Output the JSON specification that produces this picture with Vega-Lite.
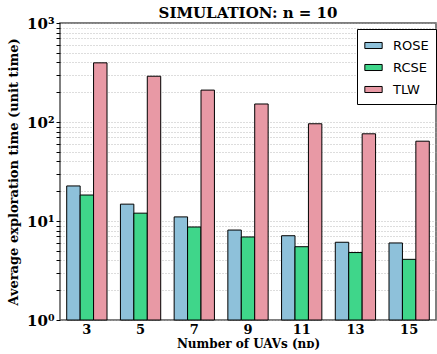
{
  "$schema": "https://vega.github.io/schema/vega-lite/v6.json",
  "width": 376,
  "height": 297,
  "autosize": {"type": "none"},
  "padding": {"left": 60, "top": 23, "right": 1, "bottom": 34},
  "background": "white",
  "title": {"text": "SIMULATION: n = 10", "font": "DejaVu Serif", "fontSize": 15, "fontWeight": "bold", "color": "black", "offset": -5},
  "config": {
    "view": {"stroke": "#555", "strokeWidth": 1.5},
    "axis": {"labelFont": "DejaVu Serif", "titleFont": "DejaVu Serif", "labelFontWeight": "bold", "titleFontWeight": "bold", "labelColor": "black", "titleColor": "black", "domain": false}
  },
  "data": {"values": [
    {"n": 3, "method": "ROSE", "t": 22.6}, {"n": 3, "method": "RCSE", "t": 18.3}, {"n": 3, "method": "TLW", "t": 396},
    {"n": 5, "method": "ROSE", "t": 14.8}, {"n": 5, "method": "RCSE", "t": 12.0}, {"n": 5, "method": "TLW", "t": 290},
    {"n": 7, "method": "ROSE", "t": 11.0}, {"n": 7, "method": "RCSE", "t": 8.7}, {"n": 7, "method": "TLW", "t": 210},
    {"n": 9, "method": "ROSE", "t": 8.1}, {"n": 9, "method": "RCSE", "t": 6.9}, {"n": 9, "method": "TLW", "t": 152},
    {"n": 11, "method": "ROSE", "t": 7.1}, {"n": 11, "method": "RCSE", "t": 5.5}, {"n": 11, "method": "TLW", "t": 96},
    {"n": 13, "method": "ROSE", "t": 6.1}, {"n": 13, "method": "RCSE", "t": 4.8}, {"n": 13, "method": "TLW", "t": 76},
    {"n": 15, "method": "ROSE", "t": 6.0}, {"n": 15, "method": "RCSE", "t": 4.1}, {"n": 15, "method": "TLW", "t": 64}
  ]},
  "mark": {"type": "bar", "stroke": "black", "strokeWidth": 1},
  "encoding": {
    "x": {"field": "n", "type": "ordinal", "sort": "ascending",
      "scale": {"paddingInner": 0.25, "paddingOuter": 0.125},
      "axis": {"labelAngle": 0, "labelFontSize": 13, "ticks": false, "labelPadding": 3,
        "title": "Number of UAVs  (nᴅ)", "titleFontSize": 12, "titlePadding": 2}},
    "xOffset": {"field": "method", "type": "nominal", "sort": ["ROSE", "RCSE", "TLW"], "scale": {"paddingInner": 0, "paddingOuter": 0}},
    "y": {"field": "t", "type": "quantitative",
      "scale": {"type": "log", "domain": [1, 1000], "nice": false},
      "axis": {
        "values": [1,2,3,4,5,6,7,8,9,10,20,30,40,50,60,70,80,90,100,200,300,400,500,600,700,800,900,1000],
        "labelExpr": "datum.value == 1 ? '10⁰' : datum.value == 10 ? '10¹' : datum.value == 100 ? '10²' : datum.value == 1000 ? '10³' : ''",
        "labelFontSize": 15, "tickSize": 4, "tickColor": "black",
        "grid": true, "gridDash": [1, 2], "gridColor": "#aaa", "gridWidth": 0.8,
        "title": "Average exploration time (unit time)", "titleFontSize": 13, "titlePadding": 6}},
    "y2": {"datum": 1},
    "color": {"field": "method", "type": "nominal", "sort": ["ROSE", "RCSE", "TLW"],
      "scale": {"domain": ["ROSE", "RCSE", "TLW"], "range": ["#8ec1da", "#3fd68a", "#e899a5"]},
      "legend": {"title": null, "orient": "none", "legendX": 297, "legendY": 6,
        "labelFont": "DejaVu Sans", "labelFontSize": 13, "labelColor": "black",
        "symbolType": "M-1,-0.35H1V0.35H-1Z", "symbolSize": 300, "symbolStrokeColor": "black", "symbolStrokeWidth": 1, "symbolOpacity": 1,
        "strokeColor": "black", "fillColor": "white", "padding": 7, "rowPadding": 5, "labelOffset": 10, "cornerRadius": 0}}
  }
}
